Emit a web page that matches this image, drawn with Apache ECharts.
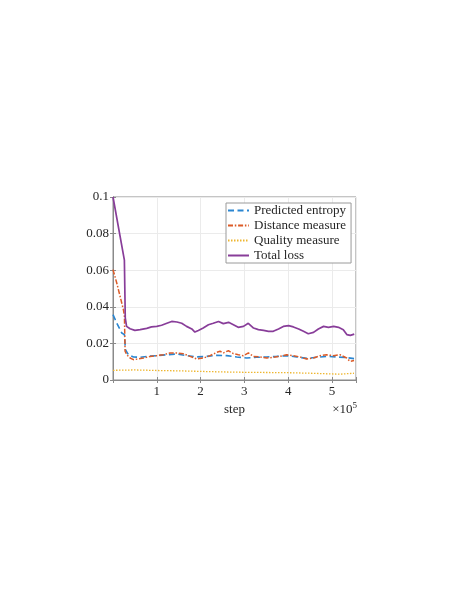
<!DOCTYPE html>
<html>
<head>
<meta charset="utf-8">
<script src="https://cdn.jsdelivr.net/npm/echarts@6/dist/echarts.min.js"></script>
<style>
html,body{margin:0;padding:0;background:#fff;}
#c{width:459px;height:595px;}
</style>
</head>
<body>
<div id="c"></div>
<script>
// Data (step, value)
const predictedEntropy = [
  [0,0.0357],[8600,0.0311],[20000,0.0257],[26100,0.0248],[28400,0.0166],[35200,0.0138],
  [46700,0.0126],[61900,0.0124],[77100,0.0129],[99900,0.0133],[122700,0.0138],[145600,0.0142],
  [168400,0.0133],[191300,0.0126],[214100,0.0129],[236900,0.0135],[259700,0.0133],[282600,0.0126],
  [305400,0.0120],[328200,0.0124],[351100,0.0126],[373900,0.0129],[396800,0.0133],[419600,0.0126],
  [442500,0.0118],[465300,0.0124],[488100,0.0129],[511000,0.0126],[533700,0.0122],[550500,0.0117]
];
const distanceMeasure = [
  [0,0.0603],[8600,0.0530],[16200,0.0457],[23800,0.0384],[26100,0.0348],[27600,0.0157],
  [31400,0.0138],[39000,0.0120],[46700,0.0111],[58100,0.0115],[69500,0.0120],[84700,0.0129],
  [99900,0.0133],[115100,0.0138],[130400,0.0148],[145600,0.0148],[160800,0.0144],[176000,0.0129],
  [191300,0.0115],[206500,0.0120],[221700,0.0133],[236900,0.0151],[244500,0.0157],[252100,0.0148],
  [263600,0.0160],[275000,0.0144],[286400,0.0138],[297800,0.0133],[309300,0.0148],[320700,0.0129],
  [335900,0.0126],[351100,0.0120],[366400,0.0124],[381600,0.0129],[396800,0.0138],[412000,0.0133],
  [427200,0.0126],[442500,0.0115],[457700,0.0120],[472900,0.0133],[488100,0.0138],[503300,0.0133],
  [518500,0.0138],[533700,0.0120],[541300,0.0102],[550500,0.0106]
];
const qualityMeasure = [
  [0,0.0053],[50000,0.0055],[100000,0.0052],[150000,0.0050],[200000,0.0047],[250000,0.0044],
  [300000,0.0042],[350000,0.0041],[400000,0.0040],[450000,0.0037],[500000,0.0033],[520000,0.0032],
  [550500,0.0037]
];
const totalLoss = [
  [0,0.1000],[26000,0.0655],[28000,0.0340],[31000,0.0293],[39000,0.0280],[50000,0.0271],
  [62000,0.0275],[77000,0.0282],[88000,0.0290],[100000,0.0293],[111000,0.0299],[123000,0.0310],
  [134000,0.0320],[146000,0.0317],[157000,0.0310],[168000,0.0293],[180000,0.0279],[187000,0.0262],
  [195000,0.0271],[206000,0.0284],[218000,0.0302],[229000,0.0310],[241000,0.0320],[252000,0.0308],
  [264000,0.0315],[275000,0.0302],[286000,0.0288],[298000,0.0293],[309000,0.0310],[321000,0.0284],
  [332000,0.0275],[344000,0.0271],[355000,0.0266],[366000,0.0266],[378000,0.0279],[389000,0.0293],
  [401000,0.0297],[412000,0.0290],[424000,0.0279],[435000,0.0266],[446000,0.0253],[458000,0.0260],
  [469000,0.0279],[481000,0.0293],[492000,0.0288],[504000,0.0293],[515000,0.0288],[526000,0.0275],
  [534000,0.0248],[542000,0.0244],[551000,0.0251]
];
const seriesNames = ['Predicted entropy','Distance measure','Quality measure','Total loss'];
const yTicks = [0, 0.02, 0.04, 0.06, 0.08, 0.1];
const xTickLabels = ['1','2','3','4','5'];

const FONT = 'Liberation Serif';
const axisGray = '#8a8a8a';
const textColor = '#262626';
const chart = echarts.init(document.getElementById('c'));
const mkLine = (name, data, color, type, width) => ({
  name, type: 'line', data, showSymbol: false, symbol: 'none',
  xAxisIndex: 0, yAxisIndex: 0,
  lineStyle: { color, type, width }, itemStyle: { color }
});
const tickIn = { show: true, inside: true, length: 3, lineStyle: { color: axisGray } };
chart.setOption({
  animation: false,
  backgroundColor: '#fff',
  textStyle: { fontFamily: FONT },
  grid: { left: 113, top: 197, right: 103, bottom: 215, show: true, borderColor: axisGray, borderWidth: 1, containLabel: false },
  legend: {
    data: seriesNames, orient: 'vertical', left: 226, top: 203,
    padding: [1, 5, 1, 1], itemGap: 2, itemWidth: 21, itemHeight: 10,
    backgroundColor: '#fff', borderColor: '#9a9a9a', borderWidth: 1,
    itemStyle: { opacity: 0, borderWidth: 0 },
    textStyle: { fontFamily: FONT, fontSize: 13, color: textColor, lineHeight: 13 }
  },
  xAxis: [{
    type: 'value', min: 0, max: 555000, interval: 100000,
    name: 'step', nameLocation: 'middle', nameGap: 23,
    nameTextStyle: { fontFamily: FONT, fontSize: 13, color: textColor },
    axisLine: { show: true, lineStyle: { color: axisGray } },
    axisTick: tickIn,
    axisLabel: { fontFamily: FONT, fontSize: 13, color: textColor, margin: 5,
      formatter: v => (v > 0 && v % 100000 === 0) ? xTickLabels[v / 100000 - 1] : '' },
    splitLine: { show: true, lineStyle: { color: '#ebebeb', width: 1 } }
  }, {
    type: 'value', position: 'top', min: 0, max: 555000, interval: 100000,
    axisLine: { show: true, lineStyle: { color: axisGray } },
    axisTick: tickIn,
    axisLabel: { show: false }, splitLine: { show: false }
  }],
  yAxis: [{
    type: 'value', min: 0, max: 0.1, interval: 0.02,
    axisLine: { show: true, lineStyle: { color: axisGray } },
    axisTick: tickIn,
    axisLabel: { fontFamily: FONT, fontSize: 13, color: textColor, margin: 4,
      formatter: v => { const t = yTicks.find(k => Math.abs(k - v) < 1e-9); return t === undefined ? '' : String(t); } },
    splitLine: { show: true, lineStyle: { color: '#ebebeb', width: 1 } }
  }, {
    type: 'value', position: 'right', min: 0, max: 0.1, interval: 0.02,
    axisLine: { show: true, lineStyle: { color: axisGray } },
    axisTick: tickIn,
    axisLabel: { show: false }, splitLine: { show: false }
  }],
  graphic: [{
    type: 'text', right: 102, top: 401,
    style: {
      text: '{a|×10}{s|5}',
      rich: {
        a: { fontFamily: FONT, fontSize: 13, fill: textColor },
        s: { fontFamily: FONT, fontSize: 9, fill: textColor, padding: [0, 0, 8, 0] }
      }
    }
  }],
  series: [
    mkLine(seriesNames[0], predictedEntropy, '#2a86d1', [6, 3.5], 1.6),
    mkLine(seriesNames[1], distanceMeasure, '#dc5b27', [5, 1.8, 1.5, 1.8], 1.5),
    mkLine(seriesNames[2], qualityMeasure, '#eeb630', [1.5, 1.5], 1.3),
    mkLine(seriesNames[3], totalLoss, '#883d99', 'solid', 1.7)
  ]
});
</script>
</body>
</html>
